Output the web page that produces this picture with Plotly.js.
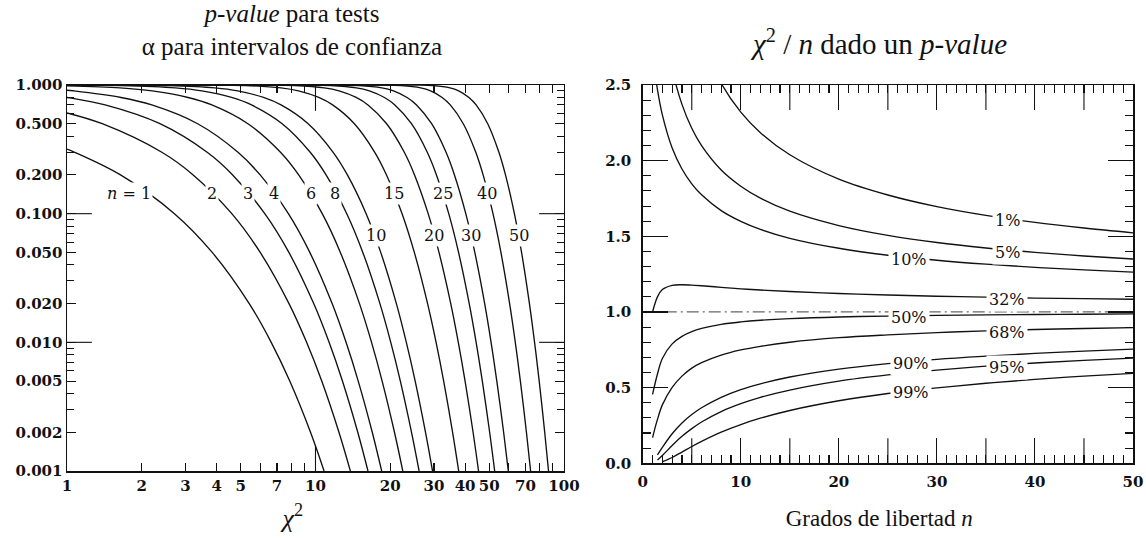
<!DOCTYPE html>
<html>
<head>
<meta charset="utf-8">
<script src="https://cdn.plot.ly/plotly-3.0.1.min.js"></script>
<style>html,body{margin:0;padding:0;background:#fff;}#chart{width:1146px;height:538px;}</style>
</head>
<body>
<div id="chart"></div>
<script>
// ---------- Left panel: p-value vs chi^2 for several degrees of freedom ----------
const degreesOfFreedom = [1, 2, 3, 4, 6, 8, 10, 15, 20, 25, 30, 40, 50];
const pLevels = [0.999, 0.99, 0.95, 0.9, 0.8, 0.7, 0.5, 0.3, 0.2, 0.1, 0.05, 0.02, 0.01, 0.005, 0.002, 0.001];
const chi2_n1  = [0.0000016, 0.000157, 0.00393, 0.0158, 0.0642, 0.148, 0.455, 1.074, 1.642, 2.706, 3.841, 5.412, 6.635, 7.879, 9.550, 10.828];
const chi2_n2  = [0.002, 0.0201, 0.103, 0.211, 0.446, 0.713, 1.386, 2.408, 3.219, 4.605, 5.991, 7.824, 9.210, 10.597, 12.429, 13.816];
const chi2_n3  = [0.0243, 0.115, 0.352, 0.584, 1.005, 1.424, 2.366, 3.665, 4.642, 6.251, 7.815, 9.837, 11.345, 12.838, 14.796, 16.266];
const chi2_n4  = [0.0908, 0.297, 0.711, 1.064, 1.649, 2.195, 3.357, 4.878, 5.989, 7.779, 9.488, 11.668, 13.277, 14.860, 16.924, 18.467];
const chi2_n6  = [0.381, 0.872, 1.635, 2.204, 3.070, 3.828, 5.348, 7.231, 8.558, 10.645, 12.592, 15.033, 16.812, 18.548, 20.791, 22.458];
const chi2_n8  = [0.857, 1.646, 2.733, 3.490, 4.594, 5.527, 7.344, 9.524, 11.030, 13.362, 15.507, 18.168, 20.090, 21.955, 24.352, 26.124];
const chi2_n10 = [1.479, 2.558, 3.940, 4.865, 6.179, 7.267, 9.342, 11.781, 13.442, 15.987, 18.307, 21.161, 23.209, 25.188, 27.722, 29.588];
const chi2_n15 = [3.483, 5.229, 7.261, 8.547, 10.307, 11.721, 14.339, 17.322, 19.311, 22.307, 24.996, 28.259, 30.578, 32.801, 35.628, 37.697];
const chi2_n20 = [5.921, 8.260, 10.851, 12.443, 14.578, 16.266, 19.337, 22.775, 25.038, 28.412, 31.410, 35.020, 37.566, 39.997, 43.072, 45.315];
const chi2_n25 = [8.649, 11.524, 14.611, 16.473, 18.940, 20.867, 24.337, 28.172, 30.675, 34.382, 37.652, 41.566, 44.314, 46.928, 50.223, 52.620];
const chi2_n30 = [11.588, 14.953, 18.493, 20.599, 23.364, 25.508, 29.336, 33.530, 36.250, 40.256, 43.773, 47.962, 50.892, 53.672, 57.167, 59.703];
const chi2_n40 = [17.916, 22.164, 26.509, 29.051, 32.345, 34.872, 39.335, 44.165, 47.269, 51.805, 55.758, 60.436, 63.691, 66.766, 70.618, 73.402];
const chi2_n50 = [24.674, 29.707, 34.764, 37.689, 41.449, 44.313, 49.335, 54.723, 58.164, 63.167, 67.505, 72.613, 76.154, 79.490, 83.657, 86.661];
const pAtChi2One = [0.3173, 0.6065, 0.8013, 0.9098, 0.9856, 0.9982, 0.9998, 1, 1, 1, 1, 1, 1];
const chi2Tables = [chi2_n1, chi2_n2, chi2_n3, chi2_n4, chi2_n6, chi2_n8, chi2_n10, chi2_n15, chi2_n20, chi2_n25, chi2_n30, chi2_n40, chi2_n50];

const leftLabelText = ['<i>n</i> = 1', '2', '3', '4', '6', '8', '15', '25', '40', '10', '20', '30', '50'];
const leftLabelX = [1.78, 3.83, 5.37, 6.82, 9.55, 12.0, 20.7, 32.5, 49.1, 17.5, 30.0, 42.3, 65.7];
const leftLabelY = [0.143, 0.143, 0.143, 0.143, 0.143, 0.143, 0.143, 0.143, 0.143, 0.068, 0.068, 0.068, 0.068];

const leftXTicks = [1, 2, 3, 4, 5, 7, 10, 20, 30, 40, 50, 70, 100];
const leftXMinor = [6, 8, 9, 60, 80, 90];
const leftYTicks = [0.001, 0.002, 0.005, 0.01, 0.02, 0.05, 0.1, 0.2, 0.5, 1];
const leftYTickText = ['0.001', '0.002', '0.005', '0.010', '0.020', '0.050', '0.100', '0.200', '0.500', '1.000'];
const leftYMinor = [0.003, 0.004, 0.006, 0.007, 0.008, 0.009, 0.03, 0.04, 0.06, 0.07, 0.08, 0.09, 0.3, 0.4, 0.6, 0.7, 0.8, 0.9];

// ---------- Right panel: chi^2/n vs n for several p-values ----------
const nGrid = [1, 1.5, 2, 3, 4, 5, 6, 8, 10, 12, 15, 20, 25, 30, 35, 40, 45, 50];
const pctLabels = ['1%', '5%', '10%', '32%', '50%', '68%', '90%', '95%', '99%'];
const ratio_p01 = [6.635, 5.40, 4.605, 3.782, 3.319, 3.017, 2.802, 2.511, 2.321, 2.185, 2.039, 1.878, 1.773, 1.696, 1.638, 1.592, 1.555, 1.523];
const ratio_p05 = [3.841, 3.30, 2.996, 2.605, 2.372, 2.214, 2.099, 1.938, 1.831, 1.752, 1.666, 1.571, 1.506, 1.459, 1.423, 1.394, 1.370, 1.350];
const ratio_p10 = [2.706, 2.47, 2.303, 2.084, 1.945, 1.847, 1.774, 1.670, 1.599, 1.546, 1.487, 1.421, 1.375, 1.342, 1.316, 1.295, 1.278, 1.263];
const ratio_p32 = [1.000, 1.10, 1.148, 1.176, 1.180, 1.177, 1.173, 1.163, 1.153, 1.145, 1.135, 1.122, 1.112, 1.104, 1.098, 1.092, 1.088, 1.084];
const ratio_p50 = [0.455, 0.59, 0.693, 0.789, 0.839, 0.870, 0.891, 0.918, 0.934, 0.945, 0.956, 0.967, 0.973, 0.978, 0.981, 0.983, 0.985, 0.987];
const ratio_p68 = [0.170, 0.29, 0.386, 0.502, 0.576, 0.629, 0.665, 0.715, 0.749, 0.773, 0.800, 0.830, 0.849, 0.864, 0.875, 0.884, 0.891, 0.897];
const ratio_p90 = [null, 0.055, 0.105, 0.195, 0.266, 0.322, 0.367, 0.436, 0.487, 0.525, 0.570, 0.622, 0.659, 0.687, 0.708, 0.726, 0.741, 0.754];
const ratio_p95 = [null, 0.022, 0.0513, 0.117, 0.178, 0.229, 0.273, 0.342, 0.394, 0.436, 0.484, 0.543, 0.584, 0.616, 0.642, 0.663, 0.680, 0.695];
const ratio_p99 = [null, null, 0.0101, 0.0383, 0.0743, 0.111, 0.145, 0.206, 0.256, 0.298, 0.349, 0.413, 0.461, 0.498, 0.529, 0.554, 0.576, 0.594];
const ratioTables = [ratio_p01, ratio_p05, ratio_p10, ratio_p32, ratio_p50, ratio_p68, ratio_p90, ratio_p95, ratio_p99];
const rightLabelX = [37.2, 37.2, 27.2, 37.1, 27.2, 37.2, 27.4, 37.2, 27.4];
const rightLabelY = [1.607, 1.396, 1.349, 1.085, 0.962, 0.867, 0.662, 0.636, 0.471];
const referenceRatio = 1.0;

// ---------- styling ----------
const tickFont = {family: 'DejaVu Serif', size: 15, color: '#111', weight: 'bold'};
const labelFont = {family: 'DejaVu Serif', size: 16, color: '#111'};
const titleFamily = 'Liberation Serif';
const lineStyle = {color: '#111', width: 1.35, shape: 'spline', smoothing: 1};

const traces = [];
degreesOfFreedom.forEach((n, i) => {
  const xs = [1], ys = [pAtChi2One[i]];
  chi2Tables[i].forEach((c, j) => { if (c > 1) { xs.push(c); ys.push(pLevels[j]); } });
  traces.push({x: xs, y: ys, xaxis: 'x', yaxis: 'y', mode: 'lines', line: lineStyle,
               name: 'n = ' + n, hoverinfo: 'skip', showlegend: false});
});
pctLabels.forEach((lab, i) => {
  traces.push({x: nGrid, y: ratioTables[i], xaxis: 'x2', yaxis: 'y2', mode: 'lines', line: lineStyle,
               name: lab, hoverinfo: 'skip', showlegend: false, connectgaps: false});
});

const annotations = [];
leftLabelText.forEach((t, i) => {
  annotations.push({text: t, x: Math.log10(leftLabelX[i]), y: Math.log10(leftLabelY[i]), xref: 'x', yref: 'y',
    showarrow: false, font: labelFont, bgcolor: '#fff', borderpad: 1, xanchor: 'center', yanchor: 'middle'});
});
pctLabels.forEach((t, i) => {
  annotations.push({text: t, x: rightLabelX[i], y: rightLabelY[i], xref: 'x2', yref: 'y2',
    showarrow: false, font: labelFont, bgcolor: '#fff', borderpad: 2, xanchor: 'center', yanchor: 'middle'});
});
annotations.push({text: '<i>χ</i><sup>2</sup> / <i>n</i> dado un <i>p-value</i>', xref: 'paper', yref: 'paper',
  x: 0.7608, y: 1.112, xanchor: 'center', yanchor: 'middle', showarrow: false,
  font: {family: titleFamily, size: 29, color: '#111'}});

const longTick = {type: 'line', line: {color: '#111', width: 1.1}, layer: 'above'};
const shapes = [
  // long decade ticks, left panel
  Object.assign({}, longTick, {xref: 'x domain', yref: 'y domain', x0: 0, x1: 0.05, y0: 2/3, y1: 2/3}),
  Object.assign({}, longTick, {xref: 'x domain', yref: 'y domain', x0: 0, x1: 0.05, y0: 1/3, y1: 1/3}),
  Object.assign({}, longTick, {xref: 'x domain', yref: 'y domain', x0: 0.95, x1: 1, y0: 2/3, y1: 2/3}),
  Object.assign({}, longTick, {xref: 'x domain', yref: 'y domain', x0: 0.95, x1: 1, y0: 1/3, y1: 1/3}),
  Object.assign({}, longTick, {xref: 'x domain', yref: 'y domain', x0: 0.5, x1: 0.5, y0: 0, y1: 0.067}),
  Object.assign({}, longTick, {xref: 'x domain', yref: 'y domain', x0: 0.5, x1: 0.5, y0: 0.933, y1: 1}),
  // reference line chi^2/n = 1
  {type: 'line', xref: 'x2 domain', yref: 'y2', x0: 0, x1: 1, y0: referenceRatio, y1: referenceRatio,
   line: {color: '#666', width: 1.2, dash: '12px,4px,2px,4px'}, layer: 'below'}
];

const baseAxis = {showline: true, linecolor: '#111', linewidth: 1.5, mirror: 'ticks', ticks: 'inside',
  tickcolor: '#111', tickwidth: 1.1, showgrid: false, zeroline: false, tickfont: tickFont, fixedrange: true, tickangle: 0};

const layout = {
  width: 1146, height: 538,
  margin: {l: 67, r: 13, t: 85, b: 67},
  paper_bgcolor: '#fff', plot_bgcolor: '#fff',
  showlegend: false,
  title: {text: '<i>p-value</i> para tests<br>α para intervalos de confianza',
    font: {family: titleFamily, size: 25, color: '#111'},
    xref: 'container', yref: 'container', x: 292/1146, xanchor: 'center', y: 1 - 22/538, yanchor: 'middle'},
  xaxis: Object.assign({}, baseAxis, {domain: [0, 0.4662], type: 'log', range: [0, 2],
    tickmode: 'array', tickvals: leftXTicks, ticktext: leftXTicks.map(String), ticklen: 8,
    minor: {tickmode: 'array', tickvals: leftXMinor, ticks: 'inside', ticklen: 8, tickcolor: '#111', tickwidth: 1.1},
    title: {text: '<i>χ</i><sup>2</sup>&nbsp;&nbsp;&nbsp;&nbsp;&nbsp;&nbsp;&nbsp;', font: {family: titleFamily, size: 26, color: '#111'}, standoff: 15}}),
  yaxis: Object.assign({}, baseAxis, {domain: [0, 1], type: 'log', range: [-3, 0],
    tickmode: 'array', tickvals: leftYTicks, ticktext: leftYTickText, ticklen: 9,
    minor: {tickmode: 'array', tickvals: leftYMinor, ticks: 'inside', ticklen: 7, tickcolor: '#111', tickwidth: 1.1}}),
  xaxis2: Object.assign({}, baseAxis, {domain: [0.5401, 1], anchor: 'y2', range: [0, 50],
    tickmode: 'array', tickvals: [0, 10, 20, 30, 40, 50], ticklen: 25,
    minor: {tickmode: 'array', tickvals: [1,2,3,4,5,6,7,8,9,11,12,13,14,15,16,17,18,19,21,22,23,24,25,26,27,28,29,31,32,33,34,35,36,37,38,39,41,42,43,44,45,46,47,48,49],
            ticks: 'inside', ticklen: 8, tickcolor: '#111', tickwidth: 1.1},
    ticklabelstandoff: 4,
    title: {text: 'Grados de libertad <i>n</i>&nbsp;&nbsp;&nbsp;', font: {family: titleFamily, size: 23, color: '#111'}, standoff: 20}}),
  yaxis2: Object.assign({}, baseAxis, {domain: [0.02, 1], anchor: 'x2', range: [0, 2.5],
    tickmode: 'linear', tick0: 0, dtick: 0.5, tickformat: '.1f', ticklen: 25,
    minor: {dtick: 0.1, ticks: 'inside', ticklen: 8, tickcolor: '#111', tickwidth: 1.1},
    ticklabelstandoff: 7}),
  annotations: annotations,
  shapes: shapes.concat([5, 15, 25, 35, 45].flatMap(v => [
    Object.assign({}, longTick, {xref: 'x2', yref: 'y2 domain', x0: v, x1: v, y0: 0, y1: 25/379}),
    Object.assign({}, longTick, {xref: 'x2', yref: 'y2 domain', x0: v, x1: v, y0: 1 - 25/379, y1: 1})
  ]))
};

Plotly.newPlot('chart', traces, layout, {staticPlot: true, displayModeBar: false});
</script>
</body>
</html>
